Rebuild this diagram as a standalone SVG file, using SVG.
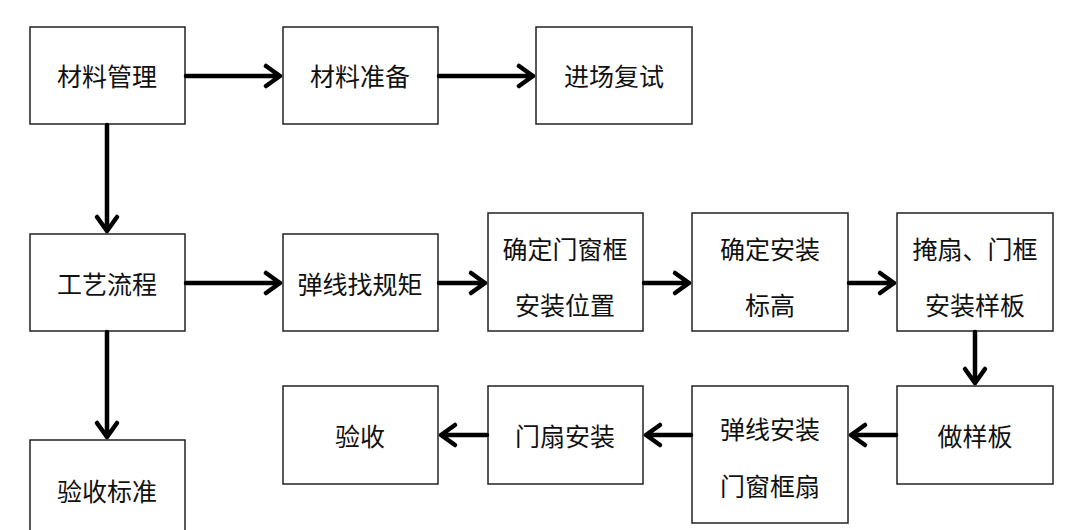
<svg xmlns="http://www.w3.org/2000/svg" width="1080" height="530" viewBox="0 0 1080 530">
<style>
.b{fill:#fff;stroke:#222;stroke-width:1.5}
text{font-family:"Noto Sans CJK SC",sans-serif;font-size:25px;fill:#111;text-anchor:middle;dominant-baseline:central}
.c{fill:none;stroke:#000;stroke-width:4.5;stroke-linecap:round;stroke-linejoin:round}
</style>
<rect width="1080" height="530" fill="#fff"/>
<g id="n1"><rect class="b" x="30" y="27" width="155" height="97"/><text x="107" y="75">材料管理</text></g>
<g id="n2"><rect class="b" x="283" y="27" width="155" height="97"/><text x="360" y="75">材料准备</text></g>
<g id="n3"><rect class="b" x="536" y="27" width="156" height="97"/><text x="614" y="75">进场复试</text></g>
<g id="n4"><rect class="b" x="30" y="234" width="155" height="97"/><text x="107" y="283">工艺流程</text></g>
<g id="n5"><rect class="b" x="283" y="234" width="155" height="97"/><text x="360" y="283">弹线找规矩</text></g>
<g id="n6"><rect class="b" x="488" y="213" width="155" height="118"/><text x="565" y="248">确定门窗框</text><text x="565" y="304">安装位置</text></g>
<g id="n7"><rect class="b" x="692" y="213" width="156" height="118"/><text x="770" y="248">确定安装</text><text x="770" y="304">标高</text></g>
<g id="n8"><rect class="b" x="897" y="213" width="156" height="118"/><text x="975" y="248">掩扇、门框</text><text x="975" y="304">安装样板</text></g>
<g id="n9"><rect class="b" x="897" y="386" width="156" height="98"/><text x="975" y="435">做样板</text></g>
<g id="n10"><rect class="b" x="692" y="386" width="156" height="137"/><text x="770" y="428">弹线安装</text><text x="770" y="485">门窗框扇</text></g>
<g id="n11"><rect class="b" x="488" y="386" width="155" height="98"/><text x="565" y="435">门扇安装</text></g>
<g id="n12"><rect class="b" x="283" y="386" width="155" height="98"/><text x="360" y="435">验收</text></g>
<g id="n13"><rect class="b" x="30" y="440" width="155" height="100"/><text x="107" y="490">验收标准</text></g>
<g id="connectors">
<path class="c" d="M186 76H280M266 66L280 76L266 86"/>
<path class="c" d="M439 76H533M519 66L533 76L519 86"/>
<path class="c" d="M107 125V231M97 217L107 231L117 217"/>
<path class="c" d="M107 332V437M97 423L107 437L117 423"/>
<path class="c" d="M186 283H280M266 273L280 283L266 293"/>
<path class="c" d="M439 283H485M471 273L485 283L471 293"/>
<path class="c" d="M644 283H689M675 273L689 283L675 293"/>
<path class="c" d="M849 283H894M880 273L894 283L880 293"/>
<path class="c" d="M975 332V383M965 369L975 383L985 369"/>
<path class="c" d="M896 435H851M865 425L851 435L865 445"/>
<path class="c" d="M691 435H646M660 425L646 435L660 445"/>
<path class="c" d="M487 435H441M455 425L441 435L455 445"/>
</g>
</svg>
